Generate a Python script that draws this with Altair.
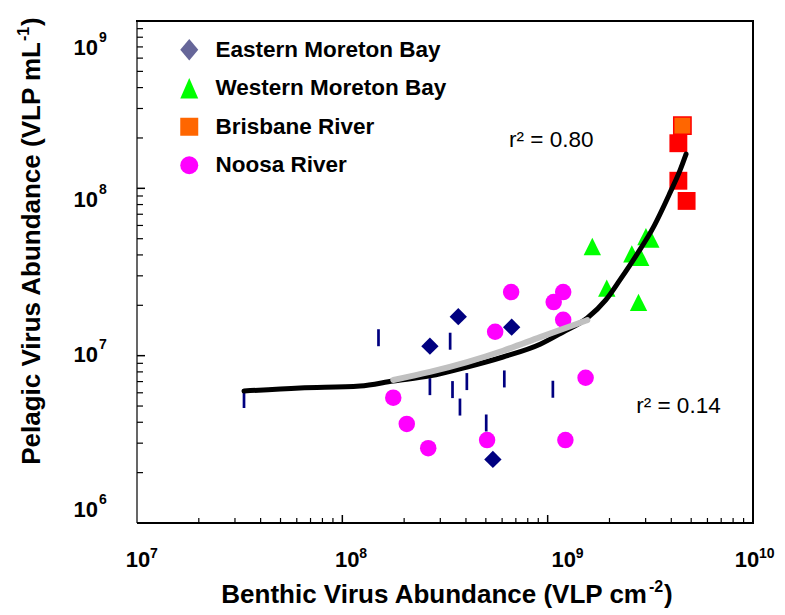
import altair as alt
import pandas as pd

FONT = "Liberation Sans"

# ---------------- data ----------------
series_names = ["Eastern Moreton Bay", "Western Moreton Bay", "Brisbane River", "Noosa River"]

eastern_x = [2.67e8, 3.67e8, 6.68e8, 5.41e8]
eastern_y = [1.14e7, 1.71e7, 1.48e7, 2.40e6]

western_x = [1.65e9, 1.94e9, 2.77e9, 2.57e9, 2.84e9, 3.01e9, 3.18e9]
western_y = [4.49e7, 2.53e7, 2.08e7, 4.06e7, 3.87e7, 5.14e7, 4.97e7]

brisbane_x = [4.53e9]
brisbane_y = [2.37e8]
brisbane_red_x = [4.33e9, 4.33e9, 4.75e9]
brisbane_red_y = [1.86e8, 1.11e8, 8.41e7]

noosa_x = [6.64e8, 1.19e9, 1.07e9, 1.19e9, 5.55e8, 1.77e8, 2.06e8, 2.62e8, 5.07e8, 1.22e9, 1.53e9]
noosa_y = [2.40e7, 2.40e7, 2.09e7, 1.64e7, 1.39e7, 5.61e6, 3.91e6, 2.80e6, 3.13e6, 3.13e6, 7.38e6]

dash_x = [3.32e7, 1.50e8, 2.67e8, 3.35e8, 3.44e8, 3.74e8, 4.04e8, 5.02e8, 6.15e8, 1.06e9]
dash_y = [5.47e6, 1.28e7, 6.53e6, 1.22e7, 6.27e6, 4.93e6, 7.00e6, 3.96e6, 7.26e6, 6.30e6]

fit_all_x = [3.32e7, 6.22e7, 1.22e8, 1.77e8, 2.67e8, 4.05e8, 6.06e8, 9.19e8, 1.19e9,
             1.56e9, 1.92e9, 2.25e9, 2.73e9, 3.26e9, 3.94e9, 4.42e9, 4.72e9]
fit_all_y = [6.15e6, 6.41e6, 6.59e6, 7.06e6, 7.57e6, 8.56e6, 9.82e6, 1.17e7, 1.386e7,
             1.68e7, 2.153e7, 2.835e7, 4.055e7, 5.80e7, 9.39e7, 1.288e8, 1.60e8]

fit_low_x = [1.77e8, 2.67e8, 4.05e8, 6.06e8, 9.19e8, 1.56e9]
fit_low_y = [7.16e6, 8.00e6, 9.16e6, 1.07e7, 1.29e7, 1.63e7]

ann_text = ["r\u00b2 = 0.80", "r\u00b2 = 0.14"]
ann_x = [6.49e8, 2.70e9]
ann_y = [1.775e8, 4.55e6]

x_decades = [1e7, 1e8, 1e9, 1e10]
x_exps = ["7", "8", "9", "10"]
y_decades = [1e6, 1e7, 1e8, 1e9]
y_exps = ["6", "7", "8", "9"]
minor_mult = [2, 3, 4, 5, 6, 7, 8, 9]

# ---------------- layout / style ----------------
W, H = 616, 502
xs = alt.Scale(type="log", domain=[1e7, 1e10], nice=False)
ys = alt.Scale(type="log", domain=[1e6, 1e9], nice=False)
X = alt.X("x:Q", scale=xs, axis=None)
Y = alt.Y("y:Q", scale=ys, axis=None)


def df(xv, yv):
    return pd.DataFrame({"x": xv, "y": yv})


one = pd.DataFrame({"a": [0]})
layers = []

# legend (invisible marks, visible legend)
leg = alt.Legend(orient="none", legendX=41, legendY=17.5, title=None,
                 labelFont=FONT, labelFontSize=22.5, labelFontWeight="bold",
                 labelColor="black", symbolSize=324, rowPadding=15.5,
                 labelOffset=15, padding=0, symbolStrokeWidth=0,
                 symbolOpacity=1, labelLimit=400)
layers.append(
    alt.Chart(pd.DataFrame({"s": series_names})).mark_point(filled=True, opacity=0).encode(
        x=alt.value(0), y=alt.value(0),
        color=alt.Color("s:N", scale=alt.Scale(domain=series_names,
                        range=["#666699", "#00ff00", "#ff6600", "#ff00ff"]), legend=leg),
        shape=alt.Shape("s:N", scale=alt.Scale(domain=series_names,
                        range=["M-1,0L0,-1.2L1,0L0,1.2Z", "M0,-1.15L1,1.15L-1,1.15Z",
                               "square", "circle"]), legend=leg),
    )
)

# navy dashes
layers.append(alt.Chart(df(dash_x, dash_y)).mark_point(
    shape="M0,-1L0,1", filled=False, size=289, strokeWidth=2.7, color="#000080", opacity=1
).encode(x=X, y=Y))
# Noosa circles
layers.append(alt.Chart(df(noosa_x, noosa_y)).mark_point(
    shape="circle", filled=True, size=272, color="#ff00ff", opacity=1
).encode(x=X, y=Y))
# Eastern diamonds
layers.append(alt.Chart(df(eastern_x, eastern_y)).mark_point(
    shape="diamond", filled=True, size=300, color="#000080", opacity=1
).encode(x=X, y=Y))
# Western triangles
layers.append(alt.Chart(df(western_x, western_y)).mark_point(
    shape="M0,-1L1,1L-1,1Z", filled=True, size=300, color="#00ff00", opacity=1
).encode(x=X, y=Y))
# Brisbane squares
layers.append(alt.Chart(df(brisbane_red_x, brisbane_red_y)).mark_point(
    shape="square", filled=True, size=320, color="#ff0000", opacity=1
).encode(x=X, y=Y))
layers.append(alt.Chart(df(brisbane_x, brisbane_y)).mark_point(
    shape="square", filled=True, size=300, fill="#ff6600", stroke="#ff0000",
    strokeWidth=1.5, opacity=1
).encode(x=X, y=Y))

# fit curves
layers.append(alt.Chart(df(fit_all_x, fit_all_y)).mark_line(
    color="black", strokeWidth=5, interpolate="monotone", strokeCap="round", strokeJoin="round"
).encode(x=X, y=Y))
layers.append(alt.Chart(df(fit_low_x, fit_low_y)).mark_line(
    color="#c0c0c0", strokeWidth=6, interpolate="monotone", strokeCap="round", strokeJoin="round"
).encode(x=X, y=Y))

# r^2 annotations
layers.append(alt.Chart(pd.DataFrame({"x": ann_x, "y": ann_y, "t": ann_text})).mark_text(
    font=FONT, fontSize=22.5, align="left", baseline="alphabetic", color="black"
).encode(x=X, y=Y, text="t:N"))

# axis ticks (inward)
x_minor = [m * d for d in x_decades[:-1] for m in minor_mult]
y_minor = [m * d for d in y_decades[:-1] for m in minor_mult]
layers.append(alt.Chart(pd.DataFrame({"x": x_minor})).mark_rule(color="black", strokeWidth=1.2).encode(
    x=X, y=alt.value(H), y2=alt.value(H - 5)))
layers.append(alt.Chart(pd.DataFrame({"x": x_decades[1:-1]})).mark_rule(color="black", strokeWidth=1.5).encode(
    x=X, y=alt.value(H), y2=alt.value(H - 8)))
layers.append(alt.Chart(pd.DataFrame({"y": y_minor})).mark_rule(color="black", strokeWidth=1.2).encode(
    y=Y, x=alt.value(0), x2=alt.value(6)))
layers.append(alt.Chart(pd.DataFrame({"y": y_decades[1:-1]})).mark_rule(color="black", strokeWidth=1.5).encode(
    y=Y, x=alt.value(0), x2=alt.value(8)))

# frame
layers.append(alt.Chart(one).mark_rule(color="black", strokeWidth=2.2).encode(
    x=alt.value(-1), x2=alt.value(W + 1), y=alt.value(0)))
layers.append(alt.Chart(one).mark_rule(color="black", strokeWidth=2.2).encode(
    x=alt.value(0), x2=alt.value(W + 1), y=alt.value(H)))
layers.append(alt.Chart(one).mark_rule(color="black", strokeWidth=2).encode(
    x=alt.value(W), y=alt.value(0), y2=alt.value(H)))
layers.append(alt.Chart(one).mark_rule(color="black", strokeWidth=1.2).encode(
    x=alt.value(0), y=alt.value(0), y2=alt.value(H)))

# tick labels: "10" with superscript exponent
x_label_dx = [1, 5, 16, -6]
for v, e, dx in zip(x_decades, x_exps, x_label_dx):
    d = pd.DataFrame({"x": [v], "e": [e]})
    layers.append(alt.Chart(d).mark_text(
        text="10", font=FONT, fontSize=22, fontWeight="bold", align="center",
        baseline="alphabetic", dx=dx, color="black").encode(x=X, y=alt.value(H + 44)))
    layers.append(alt.Chart(d).mark_text(
        font=FONT, fontSize=14, fontWeight="bold", align="left",
        baseline="alphabetic", dx=dx + 12, color="black").encode(x=X, y=alt.value(H + 35), text="e:N"))

y_label_dy = [-6, 6.5, 19, 34]
for v, e, dy in zip(y_decades, y_exps, y_label_dy):
    d = pd.DataFrame({"y": [v], "e": [e]})
    layers.append(alt.Chart(d).mark_text(
        text="10", font=FONT, fontSize=22, fontWeight="bold", align="right",
        baseline="alphabetic", dy=dy, color="black").encode(y=Y, x=alt.value(-39)))
    layers.append(alt.Chart(d).mark_text(
        font=FONT, fontSize=14, fontWeight="bold", align="left",
        baseline="alphabetic", dy=dy - 13, color="black").encode(y=Y, x=alt.value(-38), text="e:N"))

# axis titles with superscripts
def txt(t, size, x, y, align, angle=0):
    return alt.Chart(one).mark_text(
        text=t, font=FONT, fontSize=size, fontWeight="bold", align=align,
        baseline="alphabetic", angle=angle, color="black").encode(x=alt.value(x), y=alt.value(y))

layers.append(txt("Benthic Virus Abundance (VLP cm", 26, 510, H + 80, "right"))
layers.append(txt("-2", 16, 512, H + 69, "left"))
layers.append(txt(")", 26, 527, H + 80, "left"))

layers.append(txt("Pelagic Virus Abundance (VLP mL", 26, -97, 21, "right", 270))
layers.append(txt("-1", 16, -108, 20, "left", 270))
layers.append(txt(")", 26, -97, 5, "left", 270))

chart = alt.layer(*layers).properties(
    width=W, height=H,
    autosize=alt.AutoSizeParams(type="none"),
    padding={"left": 137, "top": 21, "right": 32, "bottom": 92},
    background="white",
).configure_view(stroke=None)

chart.save("out.html", embed_options={"renderer": "svg", "actions": False})
